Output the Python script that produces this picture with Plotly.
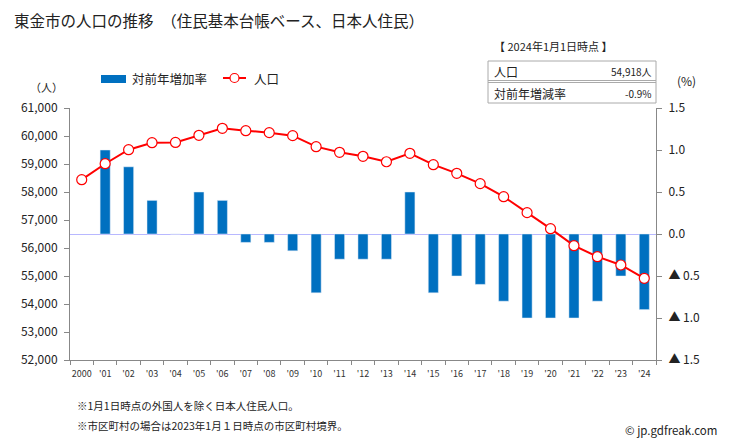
import plotly.graph_objects as go

years = ["2000", "'01", "'02", "'03", "'04", "'05", "'06", "'07", "'08", "'09", "'10", "'11", "'12",
         "'13", "'14", "'15", "'16", "'17", "'18", "'19", "'20", "'21", "'22", "'23", "'24"]
population = [58440, 59010, 59510, 59760, 59770, 60024, 60274, 60190, 60120, 60012, 59619, 59417, 59274,
              59080, 59381, 58976, 58667, 58298, 57833, 57262, 56690, 56083, 55690, 55393, 54918]
growth_rate = [None, 1.0, 0.8, 0.4, 0.0, 0.5, 0.4, -0.1, -0.1, -0.2, -0.7, -0.3, -0.3,
               -0.3, 0.5, -0.7, -0.5, -0.6, -0.8, -1.0, -1.0, -1.0, -0.8, -0.5, -0.9]
left_ticks = list(range(52000, 61001, 1000))
right_ticks = [1.5, 1.0, 0.5, 0.0, -0.5, -1.0, -1.5]
right_labels = ["1.5", "1.0", "0.5", "0.0", "▲ 0.5", "▲ 1.0", "▲ 1.5"]

FONT = "Noto Sans CJK JP"
OFF = 8  # default page body margin
W, H = 729 - 2 * OFF, 446 - 2 * OFF
# plot area in screenshot pixel coordinates
L, R, T, B = 70, 656, 108, 360


def px(x):
    return (x - L) / (R - L)


def py(y):
    return (B - y) / (B - T)


fig = go.Figure()
fig.add_trace(go.Bar(x=years, y=growth_rate, yaxis="y", marker_color="#0070c0",
                     width=0.43, name="対前年増加率", showlegend=False))
fig.add_trace(go.Scatter(x=years, y=population, yaxis="y2", mode="lines+markers",
                         line=dict(color="#ff0000", width=2),
                         marker=dict(symbol="circle", size=10, color="white",
                                     line=dict(color="#ff0000", width=1.2)),
                         name="人口", showlegend=False))

axis_col = "#888888"
fig.update_layout(
    width=W, height=H,
    margin=dict(l=L - OFF, r=W - (R - OFF), t=T - OFF, b=H - (B - OFF), autoexpand=False, pad=0),
    paper_bgcolor="white", plot_bgcolor="white",
    font=dict(family=FONT, size=11, color="#222222"),
    xaxis=dict(type="category", range=[-0.5, 24.5], showline=True, linecolor=axis_col,
               ticks="outside", tickson="boundaries", ticklen=4, tickcolor=axis_col,
               tickangle=0, automargin=False, ticklabelstandoff=5,
               tickfont=dict(size=9, color="#333333"), showgrid=False, zeroline=False),
    yaxis=dict(side="right", range=[-1.5, 1.5], tickvals=right_ticks, ticktext=right_labels,
               showline=True, linecolor=axis_col, ticks="outside", ticklen=5, tickcolor=axis_col,
               showgrid=False, zeroline=True, zerolinecolor="#b8b8ff", zerolinewidth=1,
               automargin=False, ticklabelstandoff=4, tickfont=dict(size=12, color="#222222")),
    yaxis2=dict(side="left", overlaying="y", range=[52000, 61000], tickvals=left_ticks,
                tickformat=",d", showline=True, linecolor=axis_col, ticks="outside", ticklen=5,
                tickcolor=axis_col, showgrid=False, zeroline=False, automargin=False,
                ticklabelstandoff=4, tickfont=dict(size=12, color="#222222")),
    showlegend=False,
)

shapes = []
annotations = []

# title
annotations.append(dict(x=px(12), y=py(20), xref="paper", yref="paper", xanchor="left", yanchor="middle",
                        text="東金市の人口の推移　（住民基本台帳ベース、日本人住民）", showarrow=False,
                        font=dict(size=15.5, color="#222222", family=FONT)))
# unit labels
annotations.append(dict(x=px(46), y=py(87), xref="paper", yref="paper", xanchor="center", yanchor="middle",
                        text="（人）", showarrow=False, font=dict(size=11, color="#222222")))
annotations.append(dict(x=px(686), y=py(81), xref="paper", yref="paper", xanchor="center", yanchor="middle",
                        text="(%)", showarrow=False, font=dict(size=12, color="#222222")))

# legend
shapes.append(dict(type="rect", xref="paper", yref="paper", x0=px(101), x1=px(126), y0=py(83), y1=py(75),
                   fillcolor="#0070c0", line=dict(width=0)))
annotations.append(dict(x=px(130), y=py(78), xref="paper", yref="paper", xanchor="left", yanchor="middle",
                        text="対前年増加率", showarrow=False, font=dict(size=12.5, color="#222222")))
shapes.append(dict(type="line", xref="paper", yref="paper", x0=px(223), x1=px(246), y0=py(78), y1=py(78),
                   line=dict(color="#ff0000", width=2)))
shapes.append(dict(type="circle", xref="paper", yref="paper", x0=px(230), x1=px(239), y0=py(82.5), y1=py(73.5),
                   fillcolor="white", line=dict(color="#ff0000", width=1.2)))
annotations.append(dict(x=px(252), y=py(78), xref="paper", yref="paper", xanchor="left", yanchor="middle",
                        text="人口", showarrow=False, font=dict(size=12.5, color="#222222")))

# info box
annotations.append(dict(x=px(492), y=py(46), xref="paper", yref="paper", xanchor="left", yanchor="middle",
                        text="【 2024年1月1日時点 】", showarrow=False, font=dict(size=11, color="#222222")))
shapes.append(dict(type="rect", xref="paper", yref="paper", x0=px(488), x1=px(656), y0=py(103), y1=py(61),
                   fillcolor="white", line=dict(color="#aaaaaa", width=1)))
shapes.append(dict(type="line", xref="paper", yref="paper", x0=px(488), x1=px(656), y0=py(80.5), y1=py(80.5),
                   line=dict(color="#aaaaaa", width=1)))
shapes.append(dict(type="line", xref="paper", yref="paper", x0=px(488), x1=px(656), y0=py(82.5), y1=py(82.5),
                   line=dict(color="#aaaaaa", width=1)))
annotations.append(dict(x=px(492), y=py(71), xref="paper", yref="paper", xanchor="left", yanchor="middle",
                        text="人口", showarrow=False, font=dict(size=12, color="#222222")))
annotations.append(dict(x=px(654), y=py(71), xref="paper", yref="paper", xanchor="right", yanchor="middle",
                        text="54,918人", showarrow=False, font=dict(size=10, color="#222222")))
annotations.append(dict(x=px(492), y=py(93), xref="paper", yref="paper", xanchor="left", yanchor="middle",
                        text="対前年増減率", showarrow=False, font=dict(size=12, color="#222222")))
annotations.append(dict(x=px(654), y=py(93), xref="paper", yref="paper", xanchor="right", yanchor="middle",
                        text="-0.9%", showarrow=False, font=dict(size=10, color="#222222")))

# footnotes
annotations.append(dict(x=px(75), y=py(405), xref="paper", yref="paper", xanchor="left", yanchor="middle",
                        text="※1月1日時点の外国人を除く日本人住民人口。", showarrow=False,
                        font=dict(size=10.5, color="#222222")))
annotations.append(dict(x=px(75), y=py(425), xref="paper", yref="paper", xanchor="left", yanchor="middle",
                        text="※市区町村の場合は2023年1月１日時点の市区町村境界。", showarrow=False,
                        font=dict(size=10.5, color="#222222")))
annotations.append(dict(x=px(719), y=py(430), xref="paper", yref="paper", xanchor="right", yanchor="middle",
                        text="© jp.gdfreak.com", showarrow=False, font=dict(size=11.5, color="#222222")))

fig.update_layout(shapes=shapes, annotations=annotations)
fig.write_html("out.html")
